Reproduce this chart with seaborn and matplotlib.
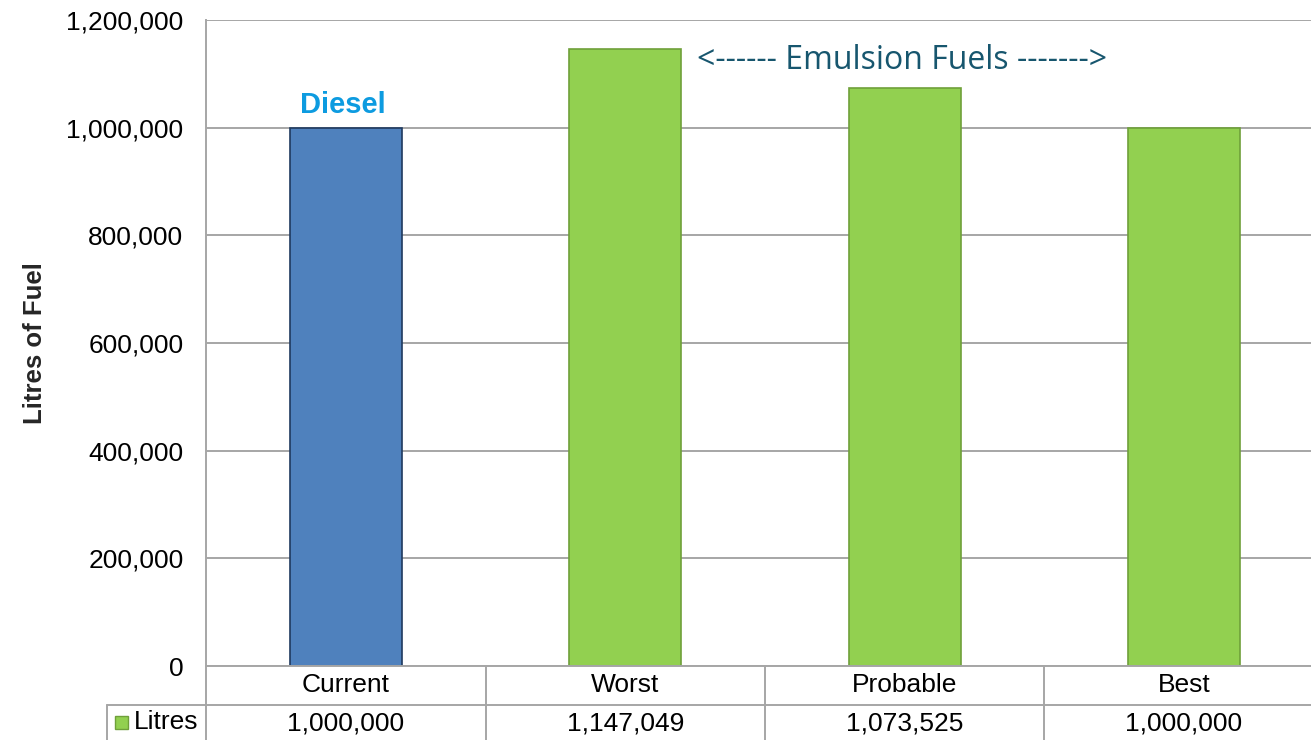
import matplotlib
matplotlib.use("Agg")
import matplotlib.pyplot as plt
import matplotlib.transforms as mtransforms
from matplotlib.lines import Line2D
from matplotlib.patches import Rectangle
import seaborn as sns
import pandas as pd

categories = ["Current", "Worst", "Probable", "Best"]
litres = [1000000, 1147049, 1073525, 1000000]
series_name = "Litres"
yticks = [0, 200000, 400000, 600000, 800000, 1000000, 1200000]

sns.set_theme(style="white")
plt.rcParams['font.family'] = ['Liberation Sans', 'DejaVu Sans']

W, H = 1311, 740
fig = plt.figure(figsize=(W / 100, H / 100), dpi=100)
ax_l, ax_r, ax_t, ax_b = 206.3, 1323.7, 20, 666
ax = fig.add_axes([ax_l / W, 1 - ax_b / H, (ax_r - ax_l) / W, (ax_b - ax_t) / H])

df = pd.DataFrame({"cat": categories, "val": litres})
pal = {"Current": "#4F81BD", "Worst": "#92D050", "Probable": "#92D050", "Best": "#92D050"}
sns.barplot(data=df, x="cat", y="val", hue="cat", palette=pal, order=categories,
            hue_order=categories, width=0.40, legend=False, ax=ax, saturation=1, zorder=3)
edges = {"Current": "#1F3A5F", "Worst": "#6FA03A", "Probable": "#6FA03A", "Best": "#6FA03A"}
for p, c in zip(ax.patches, categories):
    p.set_edgecolor(edges[c])
    p.set_linewidth(1.2)

ax.set_xlim(-0.5, 3.5)
ax.set_ylim(0, 1200000)
ax.set_yticks(yticks)
ax.set_yticklabels([f"{v:,}" for v in yticks], fontsize=19, color="black")
ax.set_xticks([])
ax.set_xlabel("")
ax.set_ylabel("Litres of Fuel", fontsize=18.5, fontweight="bold", labelpad=14)
ax.yaxis.grid(True, color="#A6A6A6", linewidth=1.4, zorder=0)
ax.set_axisbelow(True)
for s in ["top", "right", "bottom"]:
    ax.spines[s].set_visible(False)
ax.spines["left"].set_color("#A6A6A6")
ax.spines["left"].set_linewidth(1.4)
ax.tick_params(axis="y", length=0, pad=16.5, left=False)

# annotations
ax.text(-0.01, 1042000, "Diesel", ha="center", va="center", fontsize=21,
        fontweight="bold", color="#0D9BE0")
ax.text(1.99, 1124000, "<------ Emulsion Fuels ------->", ha="center", va="center",
        fontsize=23, color="#17566E", family=["Open Sans", "DejaVu Sans"])

# data table
bt = mtransforms.blended_transform_factory(ax.transData, fig.transFigure)
def fy(y):
    return 1 - y / H
gc = "#A6A6A6"
lw = 1.4
fig.add_artist(Line2D([-0.5, 3.5], [fy(666), fy(666)], transform=bt, color=gc, lw=lw))
fig.add_artist(Line2D([107 / W, 1.0], [fy(705), fy(705)], transform=fig.transFigure, color=gc, lw=lw))
for b in [-0.5, 0.5, 1.5, 2.5, 3.5]:
    fig.add_artist(Line2D([b, b], [fy(666), fy(740)], transform=bt, color=gc, lw=lw))
fig.add_artist(Line2D([107 / W, 107 / W], [fy(705), fy(740)], transform=fig.transFigure, color=gc, lw=lw))

for i, (c, v) in enumerate(zip(categories, litres)):
    fig.text(i, fy(685), c, transform=bt, ha="center", va="center", fontsize=19, color="black")
    fig.text(i, fy(723), f"{v:,}", transform=bt, ha="center", va="center", fontsize=19, color="black")

fig.add_artist(Rectangle((115 / W, fy(729)), 13 / W, 13 / H, transform=fig.transFigure,
                         facecolor="#92D050", edgecolor="#6FA03A", lw=1))
fig.text(134 / W, fy(722), series_name, ha="left", va="center", fontsize=19, color="black")

fig.savefig("out.png", dpi=100)
